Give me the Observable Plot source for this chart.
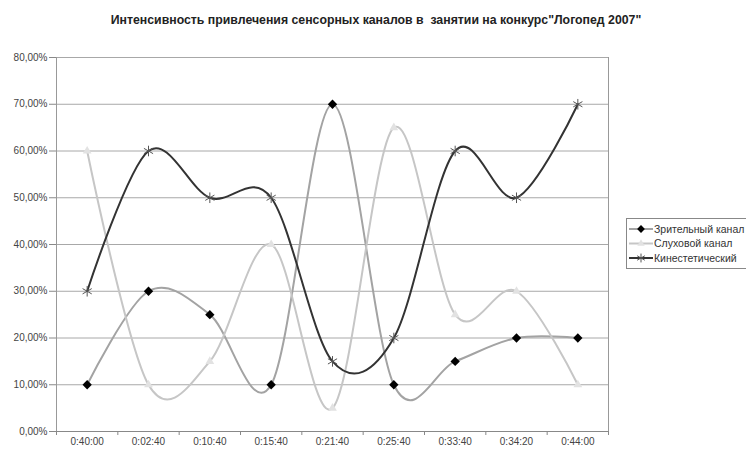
<!DOCTYPE html>
<html>
<head>
<meta charset="utf-8">
<script src="https://cdn.jsdelivr.net/npm/d3@7"></script>
<script src="https://cdn.jsdelivr.net/npm/@observablehq/plot@0.6"></script>
<style>
  body { margin: 0; background: #fff; font-family: "Liberation Sans", Arial, sans-serif; }
  #wrap { position: relative; width: 746px; height: 450px; overflow: hidden; }
  #title { position: absolute; top: 13px; left: 0; width: 752px; text-align: center; font-weight: bold; font-size: 12.3px; color: #222; white-space: pre; }
  #legend { position: absolute; left: 626px; top: 218px; }
  #chart { position: absolute; left: 0; top: 0; }
</style>
</head>
<body>
<div id="wrap">
  <div id="chart"></div>
  <div id="title"></div>
  <div id="legend"></div>
</div>
<script>
const titleText = "Интенсивность привлечения сенсорных каналов в  занятии на конкурс\"Логопед 2007\"";
const categories = ["0:40:00","0:02:40","0:10:40","0:15:40","0:21:40","0:25:40","0:33:40","0:34:20","0:44:00"];
const seriesNames = ["Зрительный канал","Слуховой канал","Кинестетический"];
const visual      = [0.10,0.30,0.25,0.10,0.70,0.10,0.15,0.20,0.20];
const auditory    = [0.60,0.10,0.15,0.40,0.05,0.65,0.25,0.30,0.10];
const kinesthetic = [0.30,0.60,0.50,0.50,0.15,0.20,0.60,0.50,0.70];
const yTicks = [0,0.1,0.2,0.3,0.4,0.5,0.6,0.7,0.8];

const styles = [
  {line: "#a3a3a3", symbol: "diamond2", fill: "#000", stroke: "none", r: 4.2},
  {line: "#c6c6c6", symbol: "triangle2", fill: "#e2e2e2", stroke: "none", r: 4.2},
  {line: "#333333", symbol: "asterisk", fill: "none", stroke: "#555", r: 5}
];
const allSeries = [visual, auditory, kinesthetic];
const rows = allSeries.map((vals, s) => vals.map((v, i) => ({series: seriesNames[s], i: i + 0.5, v})));

const fmt = d => (d * 100).toFixed(2).replace(".", ",") + "%";

const marks = [
  Plot.ruleY(yTicks.slice(1), {y: d => d, stroke: "#a8a8a8", strokeWidth: 1}),
  Plot.ruleX([9], {stroke: "#999", y1: 0, y2: 0.8}),
  Plot.axisY(yTicks, {tickSize: 7, tickPadding: 2, tickFormat: fmt, fontSize: 10, color: "#444", stroke: "#888", label: null}),
  Plot.ruleX([0], {stroke: "#999", y1: -0.008, y2: 0.8}),
  Plot.axisX(d3.range(0, 10), {tickSize: 4, tickFormat: () => "", stroke: "#888", label: null}),
  Plot.axisX(categories.map((c, i) => i + 0.5), {tickSize: 0, tickPadding: 6, tickFormat: d => categories[Math.floor(d)], fontSize: 10, color: "#444", label: null}),
  Plot.ruleY([0], {stroke: "#888"})
];
rows.forEach((r, s) => {
  marks.push(Plot.line(r, {x: "i", y: "v", curve: "cardinal", stroke: styles[s].line, strokeWidth: 2}));
});
rows.forEach((r, s) => {
  const st = styles[s];
  marks.push(Plot.dot(r, {x: "i", y: "v", symbol: st.symbol, r: st.r, fill: st.fill, stroke: st.stroke, strokeWidth: 1}));
});

const chart = Plot.plot({
  width: 746,
  height: 450,
  marginLeft: 56,
  marginRight: 138,
  marginTop: 57,
  marginBottom: 19,
  style: {fontFamily: "Liberation Sans, Arial, sans-serif", background: "white"},
  x: {type: "linear", domain: [0, 9]},
  y: {domain: [0, 0.8]},
  marks
});
document.getElementById("chart").appendChild(chart);
document.getElementById("title").textContent = titleText;

// legend
const lg = d3.select("#legend").append("svg").attr("width", 122).attr("height", 52);
lg.append("rect").attr("x", 0.5).attr("y", 0.5).attr("width", 130).attr("height", 50)
  .attr("fill", "white").attr("stroke", "#888");
const symMap = {diamond2: d3.symbolDiamond2, triangle2: d3.symbolTriangle2, asterisk: d3.symbolAsterisk};
seriesNames.forEach((name, s) => {
  const st = styles[s];
  const y = 11 + s * 14.5;
  lg.append("line").attr("x1", 3).attr("x2", 27).attr("y1", y).attr("y2", y)
    .attr("stroke", st.line).attr("stroke-width", 2);
  const size = Math.PI * st.r * st.r * 0.7;
  lg.append("path").attr("d", d3.symbol(symMap[st.symbol], size)())
    .attr("transform", `translate(15,${y})`)
    .attr("fill", st.fill).attr("stroke", st.stroke);
  lg.append("text").attr("x", 28).attr("y", y).attr("dy", "0.35em")
    .attr("font-size", 10.5).attr("fill", "#333").attr("font-family", "Liberation Sans, Arial, sans-serif")
    .text(name);
});
</script>
</body>
</html>
